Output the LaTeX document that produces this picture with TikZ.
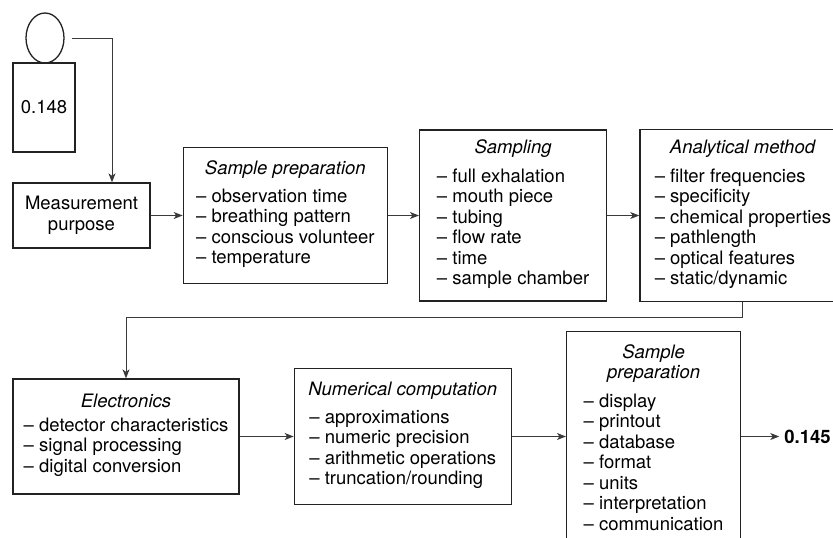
\documentclass[tikz,border=0pt]{standalone}
\usepackage{fontspec}
\setmainfont{TeX Gyre Heros}
\usepackage{tikz}
\usetikzlibrary{
  arrows.meta,
  shapes.geometric,
  positioning,
  calc
}
\definecolor{msEdge}{HTML}{222222}
\definecolor{msLine}{HTML}{3A3A3A}
\tikzset{
  msnode/.style={
    draw=msEdge, line width=1.3pt, align=center, inner sep=0pt,
    font=\fontsize{18.5}{20.5}\selectfont
  },
  stage/.style={msnode, rectangle},
  person/.style={msnode, ellipse},
  flow/.style={-{Stealth[length=9pt, width=7pt, inset=2.5pt]}, line width=1pt, msLine},
  result/.style={font=\fontsize{18.5}{20.5}\selectfont\bfseries, inner sep=0pt}
}

\begin{document}
\begin{tikzpicture}[x=1pt, y=-1pt]
  \useasboundingbox (0,0) rectangle (833,538);

  % measured person and the true value
  \node[person, minimum width=38pt, minimum height=50pt] (head) at (45,38) {};
  \node[stage, minimum width=62pt, minimum height=89pt] (body) at (44,107.5) {0.148};

  % first row
  \node[stage, minimum width=137pt, minimum height=65pt] (meas) at (81.5,215.5) {Measurement\\purpose};
  \node[stage, minimum width=204pt, minimum height=136pt, right=32pt of meas] (prep) {%
    \textit{Sample preparation}\\[8pt]
    \begin{tabular}{@{}l@{}}
      – observation time\\
      – breathing pattern\\
      – conscious volunteer\\
      – temperature
    \end{tabular}};
  \node[stage, minimum width=187pt, minimum height=171pt, right=31pt of prep] (samp) {%
    \textit{Sampling}\\[9pt]
    \begin{tabular}{@{}l@{}}
      – full exhalation\\
      – mouth piece\\
      – tubing\\
      – flow rate\\
      – time\\
      – sample chamber
    \end{tabular}};
  \node[stage, minimum width=206pt, minimum height=172pt, right=32pt of samp] (anal) {%
    \textit{Analytical method}\\[9pt]
    \begin{tabular}{@{}l@{}}
      – filter frequencies\\
      – specificity\\
      – chemical properties\\
      – pathlength\\
      – optical features\\
      – static/dynamic
    \end{tabular}};

  % second row
  \node[stage, minimum width=226pt, minimum height=115pt] (elec) at (126,436.5) {%
    \textit{Electronics}\\[8pt]
    \begin{tabular}{@{}l@{}}
      – detector characteristics\\
      – signal processing\\
      – digital conversion
    \end{tabular}};
  \node[stage, minimum width=217pt, minimum height=136pt, right=54pt of elec] (numc) {%
    \textit{Numerical computation}\\[8pt]
    \begin{tabular}{@{}l@{}}
      – approximations\\
      – numeric precision\\
      – arithmetic operations\\
      – truncation/rounding
    \end{tabular}};
  \node[stage, minimum width=174pt, minimum height=218pt, right=54pt of numc, yshift=-4pt] (disp) {%
    \textit{Sample}\\
    \textit{preparation}\\[9pt]
    \begin{tabular}{@{}l@{}}
      – display\\
      – printout\\
      – database\\
      – format\\
      – units\\
      – interpretation\\
      – communication
    \end{tabular}};
  \node[result, right=43pt of disp.east |- numc.east, anchor=west] (out) {0.145};

  % connectors
  \coordinate (turn) at (112,38);
  \draw[flow, shorten <=7pt] (head.east) -- (turn) -- (turn |- meas.north);
  \draw[flow] (meas) -- (prep);
  \draw[flow] (prep) -- (samp);
  \draw[flow] (samp) -- (anal);
  \draw[flow] (anal.south) -- ++(0,15) -| (elec.north);
  \draw[flow] (elec) -- (numc);
  \draw[flow] (numc) -- (numc -| disp.west);
  \draw[flow, shorten >=5pt] (out.west -| disp.east) -- (out);
\end{tikzpicture}
\end{document}
